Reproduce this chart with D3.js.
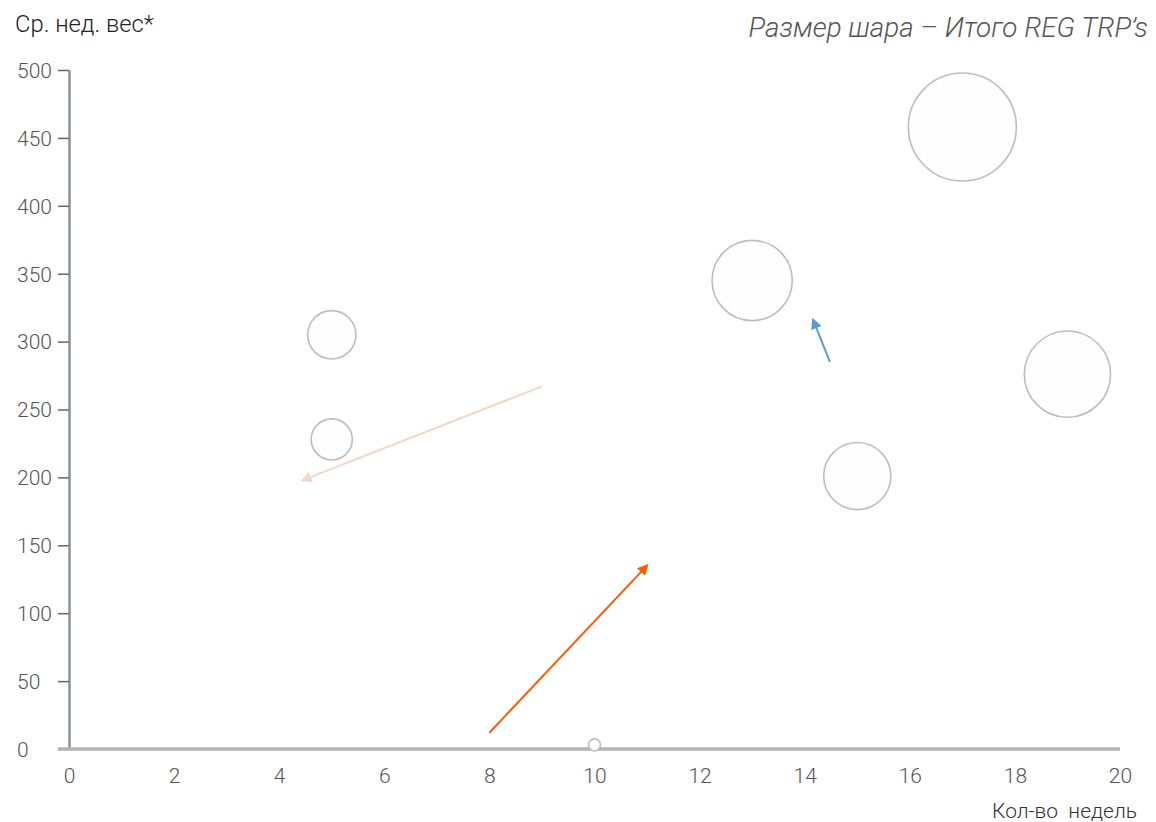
<!DOCTYPE html>
<html><head><meta charset="utf-8">
<script src="https://cdn.jsdelivr.net/npm/d3@7"></script>
<style>
html,body{margin:0;padding:0;background:#fff;}
svg{display:block;font-family:Roboto, "Noto Sans", sans-serif;}
</style></head>
<body><svg id="chart" width="1156" height="822"></svg>
<script>
// Data
const weeks   = [5, 5, 13, 17, 19, 15, 10];            // x: Кол-во недель
const weight  = [305, 228, 345, 458, 276, 201, 3];     // y: Ср. нед. вес*
const trp     = [580, 420, 1600, 2900, 1850, 1120, 36]; // bubble size: Итого REG TRP's
const xTicks = [0, 2, 4, 6, 8, 10, 12, 14, 16, 18, 20];
const yTicks = [0, 50, 100, 150, 200, 250, 300, 350, 400, 450, 500];
const arrowFromX = [8, 9, 14.48];
const arrowFromY = [12, 267, 285];
const arrowToX   = [11, 4.45, 14.16];
const arrowToY   = [135, 198, 316];
const arrowColors = ["#ff5a00", "#f2d6c6", "#5b9bd5"];

const svg = d3.select("#chart");
const x = d3.scaleLinear().domain([0, 20]).range([69, 1120]);
const y = d3.scaleLinear().domain([0, 500]).range([749, 70]);
const r = d3.scaleSqrt().domain([0, 2900]).range([0, 54]);

// Titles
svg.append("text").attr("x", 15).attr("y", 32).attr("font-size", 23.8).attr("font-weight", 300).attr("fill", "#222")
  .text("Ср. нед. вес*");
svg.append("text").attr("x", 1148).attr("y", 37).attr("text-anchor", "end")
  .attr("font-size", 27.8).attr("font-style", "italic").attr("font-weight", 300).attr("fill", "#555")
  .text("Размер шара – Итого REG TRP’s");
svg.append("text").attr("x", 1137).attr("y", 818).attr("text-anchor", "end")
  .attr("font-size", 21).attr("font-weight", 300).attr("fill", "#333")
  .style("white-space", "pre")
  .text("Кол-во  недель");

// Y axis
const yAxis = svg.append("g").attr("transform", "translate(69,0)")
  .call(d3.axisLeft(y).tickValues(yTicks).tickSize(11).tickSizeOuter(0).tickFormat(d3.format("d")));
yAxis.select(".domain").attr("stroke", "#8c9094").attr("stroke-width", 2.5);
yAxis.selectAll(".tick line").attr("stroke", "#666").attr("stroke-width", 1.5);
yAxis.selectAll(".tick text").attr("text-anchor", "start").attr("x", -52).attr("dy", "0.35em")
  .attr("font-size", 21).attr("font-weight", 300).attr("fill", "#555")
  .attr("font-family", "Roboto, sans-serif");
// X axis
const xAxis = svg.append("g").attr("transform", "translate(0,749)")
  .call(d3.axisBottom(x).tickValues(xTicks).tickSize(0).tickSizeOuter(0).tickFormat(d3.format("d")));
xAxis.select(".domain").attr("stroke", "#b3b3b3").attr("stroke-width", 3.5)
  .attr("d", `M58,0H${x(20)}`);
xAxis.selectAll(".tick text").attr("y", 19).attr("dy", "0.71em")
  .attr("font-size", 21).attr("font-weight", 300).attr("fill", "#555")
  .attr("font-family", "Roboto, sans-serif");

// Bubbles
const pts = weeks.map((w, i) => ({w, v: weight[i], s: trp[i]}));
svg.append("g").selectAll("circle").data(pts).join("circle")
  .attr("cx", d => x(d.w)).attr("cy", d => y(d.v)).attr("r", d => r(d.s))
  .attr("fill", "#fefefe").attr("stroke", "#bdbdbd").attr("stroke-width", 1.6);

// Arrows
const defs = svg.append("defs");
arrowColors.forEach((c, i) => {
  defs.append("marker").attr("id", "ah" + i).attr("viewBox", "0 0 10 10")
    .attr("refX", 8).attr("refY", 5).attr("markerWidth", 5.5).attr("markerHeight", 5.5)
    .attr("markerUnits", "strokeWidth").attr("orient", "auto")
    .append("path").attr("d", "M0,0L10,5L0,10z").attr("fill", c);
});
const arrows = arrowFromX.map((fx, i) => ({fx, fy: arrowFromY[i], tx: arrowToX[i], ty: arrowToY[i], c: arrowColors[i], i}));
svg.append("g").selectAll("line").data(arrows).join("line")
  .attr("x1", d => x(d.fx)).attr("y1", d => y(d.fy))
  .attr("x2", d => x(d.tx)).attr("y2", d => y(d.ty))
  .attr("stroke", d => d.c).attr("stroke-width", 2)
  .attr("marker-end", d => `url(#ah${d.i})`);
</script></body></html>
